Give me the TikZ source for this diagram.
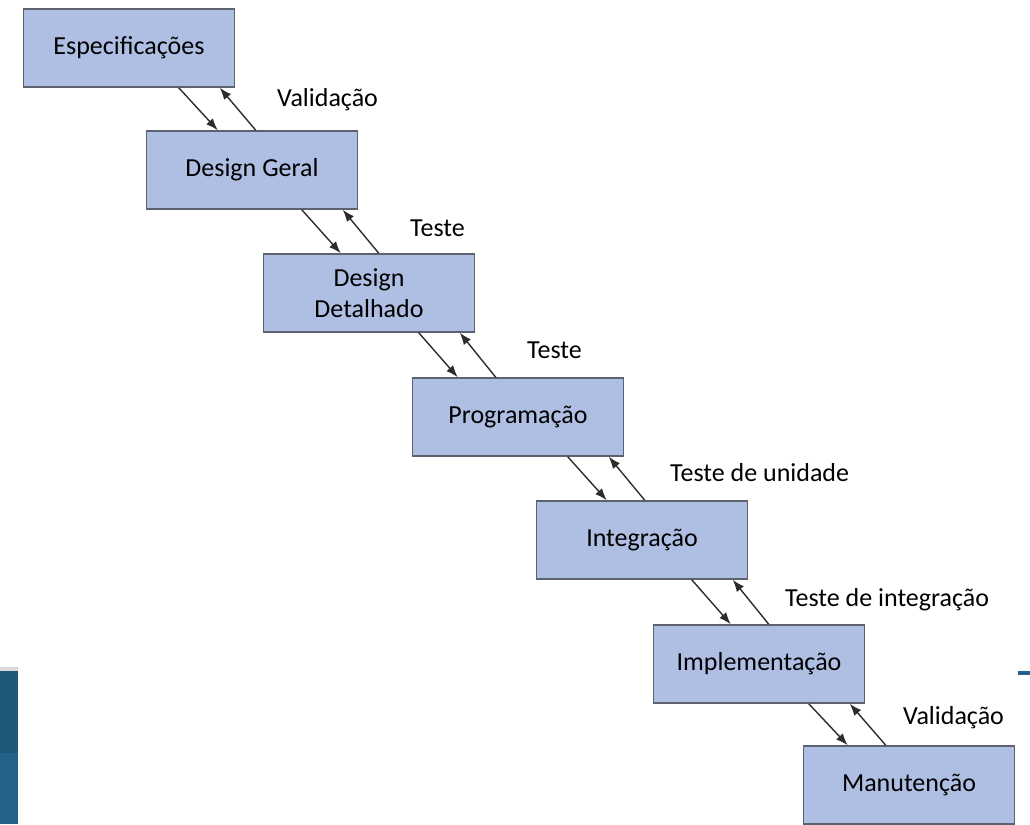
\documentclass[tikz,border=0pt]{standalone}
\usepackage{fontspec}
\setmainfont{Carlito}
\usetikzlibrary{arrows.meta}
\definecolor{caixa}{RGB}{175,191,227}
\definecolor{borda}{RGB}{92,98,112}
\definecolor{seta}{RGB}{45,45,45}
\definecolor{barraesc}{RGB}{30,87,119}
\definecolor{barraclr}{RGB}{35,99,137}
\begin{document}
\begin{tikzpicture}[x=1pt,y=-1pt,
    every node/.style = {font=\fontsize{26}{31}\selectfont},
    fase/.style = {draw=borda, line width=1.5pt, fill=caixa,
      minimum width=211pt, minimum height=78pt, inner sep=0pt, align=center},
    rotulo/.style = {anchor=west, inner sep=0pt},
    ligacao/.style = {draw=seta, line width=1.4pt,
      -{Latex[length=12pt,width=9pt]}}]
\useasboundingbox (0,0) rectangle (1030,824);
% barra lateral
\fill[gray!30] (0,667) rectangle (18,671);
\fill[barraesc] (0,671) rectangle (18,753);
\fill[barraclr] (0,753) rectangle (18,824);
\fill[barraclr] (1018,671) rectangle (1030,675);
% fases
\node[fase] (spec) at (129,48) {Especificações};
\node[fase] (geral) at (252,170) {Design Geral};
\node[fase] (detal) at (369,293) {Design\\Detalhado};
\node[fase] (prog) at (518,417) {Programação};
\node[fase] (integ) at (642,540) {Integração};
\node[fase] (impl) at (759,664) {Implementação};
\node[fase] (manut) at (909,785) {Manutenção};
% setas
\foreach \a/\b in {spec/geral,geral/detal,detal/prog,prog/integ,integ/impl,impl/manut}{
  \draw[ligacao] ([xshift=156pt]\a.south west) -- ([xshift=195pt]\a.south west |- \b.north);
  \draw[ligacao] ([xshift=233pt]\a.south west |- \b.north) -- ([xshift=197pt]\a.south west);
}
% rotulos
\node[rotulo] (r1) at (277,100) {Validação};
\node[rotulo] (r2) at (410,228) {Teste};
\node[rotulo] (r3) at (527,350) {Teste};
\node[rotulo] (r4) at (670,473) {Teste de unidade};
\node[rotulo] (r5) at (785,600) {Teste de integração};
\node[rotulo] (r6) at (903,718) {Validação};
\end{tikzpicture}
\end{document}
